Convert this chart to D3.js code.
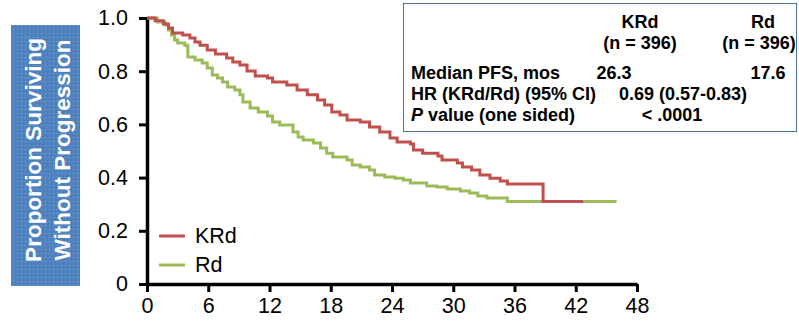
<!DOCTYPE html>
<html>
<head>
<meta charset="utf-8">
<script src="https://cdn.jsdelivr.net/npm/d3@7"></script>
<style>
  body { margin: 0; background: #fff; }
  svg { display: block; font-family: "Liberation Sans", Arial, sans-serif; }
</style>
</head>
<body>
<svg width="799" height="322"></svg>
<script>
// KM curves, months / proportion surviving
const krdMonths = [0, 0.8, 1.6, 2.1, 2.5, 3.5, 4.2, 4.7, 5.2, 5.9, 6.7, 7.8, 8.4, 9.1, 9.8, 10.6, 11.8, 12.3, 13.7, 14.7, 15.7, 16.7, 17.4, 18.1, 18.9, 19.6, 20.9, 21.8, 22.8, 23.8, 24.5, 25.8, 26.1, 27.0, 28.5, 28.9, 30.4, 30.9, 31.8, 32.6, 33.6, 34.6, 35.3, 38.8, 42.7];
const krdSurv = [1.0, 0.99, 0.977, 0.962, 0.944, 0.936, 0.925, 0.91, 0.898, 0.88, 0.865, 0.85, 0.835, 0.823, 0.801, 0.782, 0.774, 0.759, 0.748, 0.729, 0.711, 0.692, 0.673, 0.647, 0.635, 0.617, 0.609, 0.59, 0.571, 0.549, 0.534, 0.526, 0.504, 0.492, 0.481, 0.466, 0.455, 0.44, 0.429, 0.41, 0.398, 0.387, 0.376, 0.31, 0.31];

const rdMonths = [0, 1.0, 1.8, 2.1, 2.4, 2.7, 3.0, 3.7, 4.0, 4.7, 5.4, 5.9, 6.4, 6.9, 7.4, 7.9, 8.6, 9.1, 9.4, 10.1, 10.9, 11.8, 12.3, 13.0, 14.3, 14.8, 15.3, 16.3, 17.0, 17.6, 18.2, 19.6, 20.1, 20.9, 21.8, 22.3, 23.3, 24.3, 25.1, 25.8, 27.4, 28.4, 29.4, 30.7, 31.6, 32.4, 33.3, 35.3, 46.0];
const rdSurv = [1.0, 0.985, 0.974, 0.955, 0.936, 0.917, 0.906, 0.898, 0.853, 0.842, 0.831, 0.812, 0.786, 0.774, 0.759, 0.741, 0.729, 0.711, 0.684, 0.662, 0.647, 0.632, 0.609, 0.598, 0.571, 0.553, 0.541, 0.53, 0.511, 0.492, 0.477, 0.466, 0.447, 0.44, 0.429, 0.41, 0.402, 0.398, 0.391, 0.38, 0.368, 0.365, 0.357, 0.35, 0.342, 0.331, 0.323, 0.31, 0.31];

const xTicks = [0, 6, 12, 18, 24, 30, 36, 42, 48];
const yTicks = [0, 0.2, 0.4, 0.6, 0.8, 1.0];

const seriesNames = ['KRd', 'Rd'];
const seriesColors = ['#c0504d', '#9bbb59'];

const yTitle = ['Proportion Surviving', 'Without Progression'];

// summary table
const tableHeads = ['KRd', 'Rd'];
const tableN = ['(n = 396)', '(n = 396)'];
const medianPFS = ['26.3', '17.6'];
const hrText = '0.69 (0.57-0.83)';
const pText = '< .0001';

const svg = d3.select('svg');

const x = d3.scaleLinear().domain([0, 48]).range([147, 637]);
const y = d3.scaleLinear().domain([0, 1]).range([284, 18]);

// y title box with dotted texture
const defs = svg.append('defs');
const pat = defs.append('pattern')
    .attr('id', 'dots')
    .attr('width', 4)
    .attr('height', 4)
    .attr('patternUnits', 'userSpaceOnUse');
pat.append('rect').attr('width', 4).attr('height', 4).attr('fill', '#4f81bd');
pat.append('rect').attr('x', 1).attr('y', 1).attr('width', 1).attr('height', 1)
    .attr('fill', '#fff').attr('opacity', 0.28);

svg.append('rect')
    .attr('x', 11).attr('y', 25)
    .attr('width', 69).attr('height', 261)
    .attr('fill', 'url(#dots)');

svg.append('g')
    .selectAll('text')
    .data(yTitle)
    .enter()
    .append('text')
    .attr('transform', (d, i) => `translate(${i ? 62 : 33},150) rotate(-90)`)
    .attr('text-anchor', 'middle')
    .attr('dominant-baseline', 'central')
    .style('font-size', '22.5px')
    .style('font-weight', 'bold')
    .style('fill', '#fff')
    .text(d => d);

// axes
const xAxis = svg.append('g')
    .attr('transform', `translate(0,${y(0)})`)
    .call(d3.axisBottom(x).tickValues(xTicks).tickSize(8).tickSizeOuter(0).tickPadding(6));

const yAxis = svg.append('g')
    .attr('transform', `translate(${x(0)},0)`)
    .call(d3.axisLeft(y).tickValues(yTicks).tickSize(8).tickSizeOuter(0).tickPadding(11)
        .tickFormat(d => d === 0 ? '0' : d3.format('.1f')(d)));

[xAxis, yAxis].forEach(function(ax) {
    ax.select('.domain').attr('stroke', '#000').attr('stroke-width', 3.5);
    ax.selectAll('.tick line').attr('stroke', '#000').attr('stroke-width', 3);
    ax.selectAll('.tick text')
        .attr('fill', '#000')
        .style('font-size', '21.5px')
        .style('font-family', '"Liberation Sans", Arial, sans-serif');
});

// curves
const line = d3.line()
    .x(d => x(d[0]))
    .y(d => y(d[1]))
    .curve(d3.curveStepAfter);

const series = [
    d3.zip(rdMonths, rdSurv),
    d3.zip(krdMonths, krdSurv)
];

svg.append('g')
    .attr('class', 'curves')
    .selectAll('path')
    .data(series)
    .enter()
    .append('path')
    .attr('d', d => line(d))
    .attr('fill', 'none')
    .attr('stroke', (d, i) => i ? seriesColors[0] : seriesColors[1])
    .attr('stroke-width', 3);

// legend
const legend = svg.append('g')
    .selectAll('g')
    .data(seriesNames)
    .enter()
    .append('g')
    .attr('transform', (d, i) => `translate(159,${236 + i * 29})`);

legend.append('line')
    .attr('x1', 0).attr('x2', 26)
    .attr('stroke', (d, i) => seriesColors[i])
    .attr('stroke-width', 3);

legend.append('text')
    .attr('x', 36)
    .attr('dominant-baseline', 'central')
    .style('font-size', '21.5px')
    .text(d => d);

// table
const tbl = svg.append('g').style('font-size', '18px').style('font-weight', 'bold');

tbl.append('rect')
    .attr('x', 403.5).attr('y', 3.5)
    .attr('width', 393).attr('height', 128)
    .attr('fill', '#fff')
    .attr('stroke', '#4a72a8')
    .attr('stroke-width', 1);

tbl.selectAll('.head')
    .data(tableHeads)
    .enter()
    .append('text')
    .attr('x', (d, i) => [640, 763][i])
    .attr('y', 28)
    .attr('text-anchor', 'middle')
    .text(d => d);

tbl.selectAll('.n')
    .data(tableN)
    .enter()
    .append('text')
    .attr('x', (d, i) => [640, 759][i])
    .attr('y', 49)
    .attr('text-anchor', 'middle')
    .text(d => d);

tbl.append('text').attr('x', 411).attr('y', 79).text('Median PFS, mos');
tbl.selectAll('.med')
    .data(medianPFS)
    .enter()
    .append('text')
    .attr('x', (d, i) => [614, 768][i])
    .attr('y', 79)
    .attr('text-anchor', 'middle')
    .text(d => d);

tbl.append('text').attr('x', 411).attr('y', 100).text('HR (KRd/Rd) (95% CI)');
tbl.append('text').attr('x', 683).attr('y', 100).attr('text-anchor', 'middle').text(hrText);

const pRow = tbl.append('text').attr('x', 411).attr('y', 121);
pRow.append('tspan').style('font-style', 'italic').text('P');
pRow.append('tspan').text(' value (one sided)');
tbl.append('text').attr('x', 672).attr('y', 121).attr('text-anchor', 'middle').text(pText);
</script>
</body>
</html>
